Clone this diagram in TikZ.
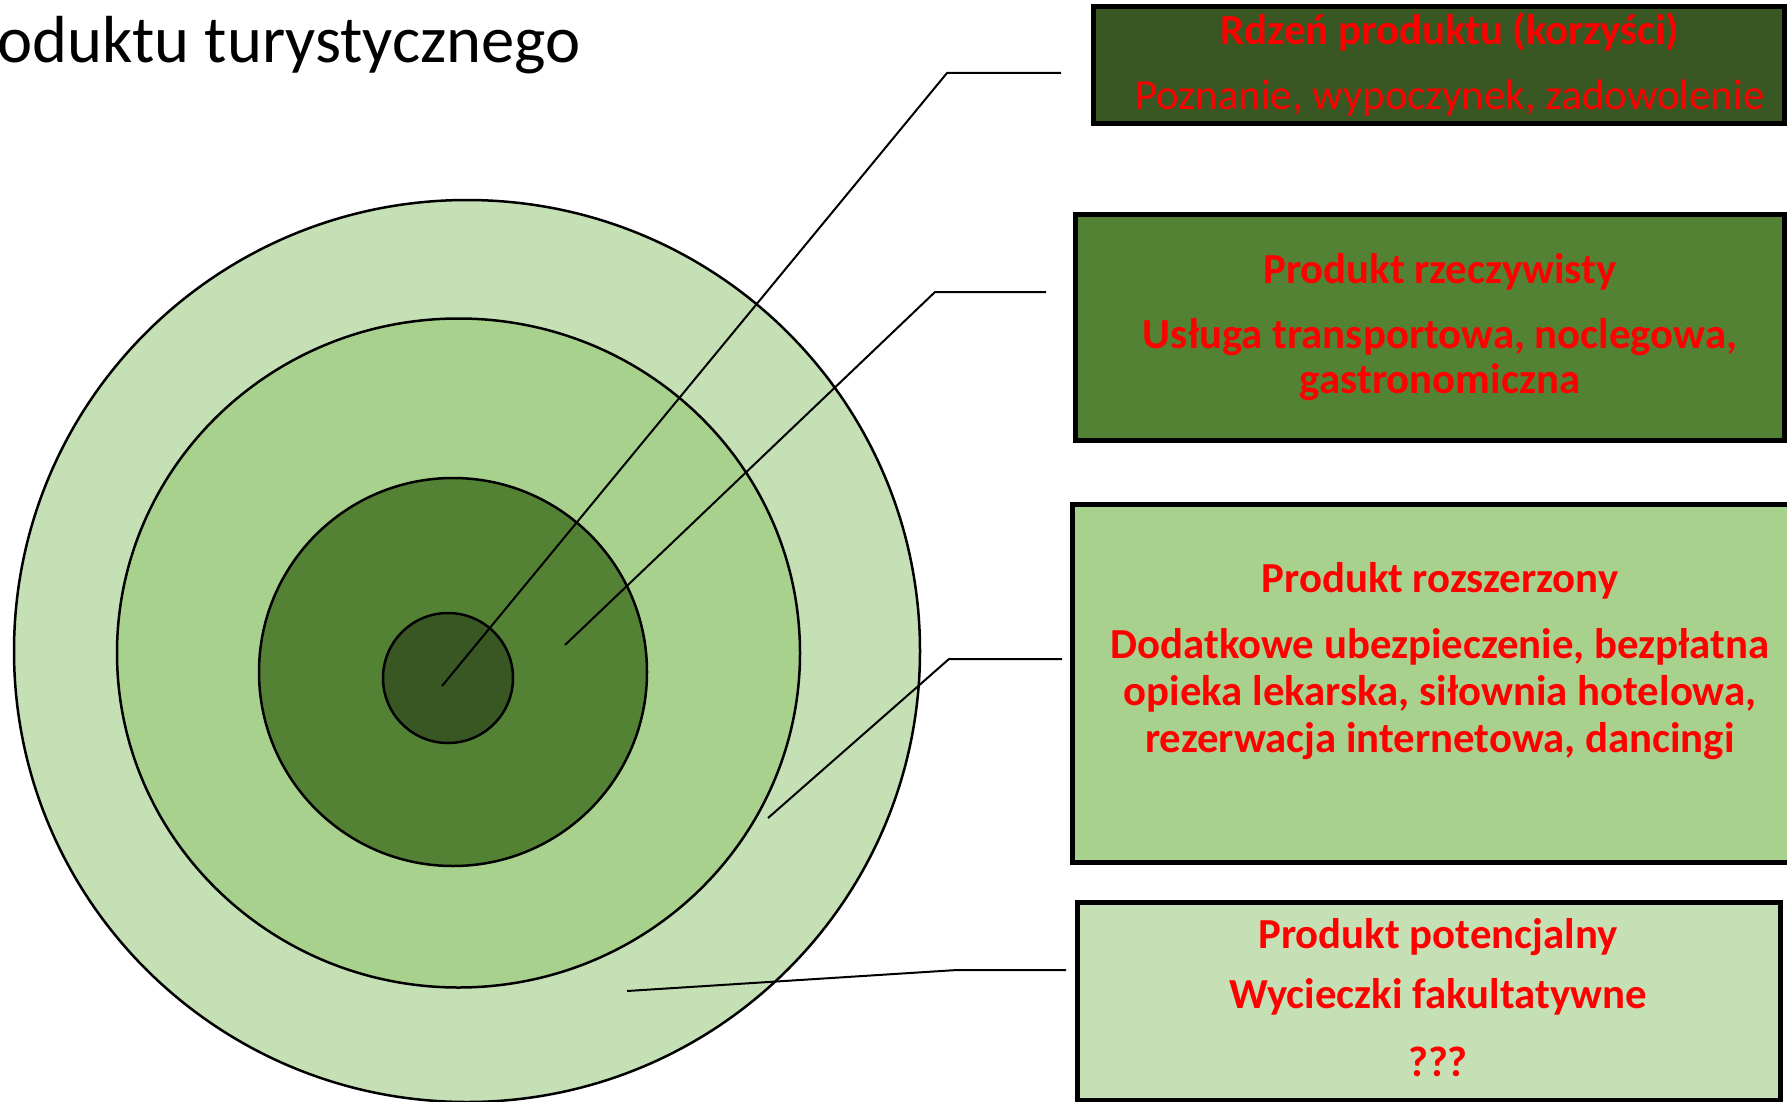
\documentclass[tikz,border=0pt]{standalone}
\usepackage{fontspec}
\setmainfont{Carlito}
\definecolor{gA}{HTML}{385723}
\definecolor{gB}{HTML}{548235}
\definecolor{gC}{HTML}{A9D18E}
\definecolor{gD}{HTML}{C5E0B4}
\definecolor{txtred}{HTML}{FF0000}
\tikzset{
  ring/.style={draw=black, line width=1.25pt},
  conn/.style={draw=black, line width=1pt},
  boxnode/.style={draw=black, line width=2.5pt, rectangle, inner sep=0pt, outer sep=0pt},
  head/.style={anchor=base, inner sep=0pt, text=txtred, font=\fontsize{21.4}{25}\selectfont\bfseries},
  bodyb/.style={anchor=base, inner sep=0pt, text=txtred, font=\fontsize{21.4}{25}\selectfont\bfseries},
  bodyr/.style={anchor=base, inner sep=0pt, text=txtred, font=\fontsize{21.4}{25}\selectfont},
}
\begin{document}
\begin{tikzpicture}[x=0.5pt,y=-0.5pt]
\useasboundingbox (0,0) rectangle (1787,1102);
\begin{scope}
\clip (0,0) rectangle (1787,1102);
% title
\node[anchor=base west, inner sep=0pt, font=\fontsize{33.3}{40}\selectfont] (title) at (-3,63) {oduktu turystycznego};
% concentric rings
\draw[ring, fill=gD] (467,651) ellipse [x radius=453, y radius=451];
\draw[ring, fill=gC] (458.5,653) ellipse [x radius=341.5, y radius=334.5];
\draw[ring, fill=gB] (453,672) ellipse [x radius=194, y radius=194];
\draw[ring, fill=gA] (448,678) ellipse [x radius=65, y radius=65];
% boxes
\node[boxnode, fill=gA, minimum width=345.5pt, minimum height=58.5pt] (b1) at (1438.5,65.5) {};
\node[boxnode, fill=gB, minimum width=354.5pt, minimum height=113pt] (b2) at (1429.5,327.5) {};
\node[boxnode, fill=gC, minimum width=360pt, minimum height=179pt] (b3) at (1432,683.5) {};
\node[boxnode, fill=gD, minimum width=351.5pt, minimum height=99pt] (b4) at (1428.5,1001) {};
% texts
\node[head] (t1a) at (1450,45) {Rdzeń produktu (korzyści)};
\node[bodyr] (t1b) at (1450,110) {Poznanie, wypoczynek, zadowolenie};
\node[head] (t2a) at (1440,283) {Produkt rzeczywisty};
\node[bodyb] (t2b) at (1440,348) {Usługa transportowa, noclegowa,};
\node[bodyb] (t2c) at (1440,393) {gastronomiczna};
\node[head] (t3a) at (1440,592) {Produkt rozszerzony};
\node[bodyb] (t3b) at (1440,658) {Dodatkowe ubezpieczenie, bezpłatna};
\node[bodyb] (t3c) at (1440,705) {opieka lekarska, siłownia hotelowa,};
\node[bodyb] (t3d) at (1440,752) {rezerwacja internetowa, dancingi};
\node[head] (t4a) at (1438,948) {Produkt potencjalny};
\node[bodyb] (t4b) at (1438,1008) {Wycieczki fakultatywne};
\node[bodyb] (t4c) at (1438,1076) {???};
% connectors
\coordinate (c1s) at (442,686);
\coordinate (c1m) at (947,73);
\coordinate (c1e) at (1061,73);
\coordinate (c2s) at (565,645);
\coordinate (c2m) at (935,292);
\coordinate (c2e) at (1046,292);
\coordinate (c3s) at (768,818);
\coordinate (c3m) at (949,659);
\coordinate (c3e) at (1062,659);
\coordinate (c4s) at (627,991);
\coordinate (c4m) at (957,970);
\coordinate (c4e) at (1066,970);
\draw[conn] (c1s) -- (c1m) -- (c1e);
\draw[conn] (c2s) -- (c2m) -- (c2e);
\draw[conn] (c3s) -- (c3m) -- (c3e);
\draw[conn] (c4s) -- (c4m) -- (c4e);
\end{scope}
\end{tikzpicture}
\end{document}
